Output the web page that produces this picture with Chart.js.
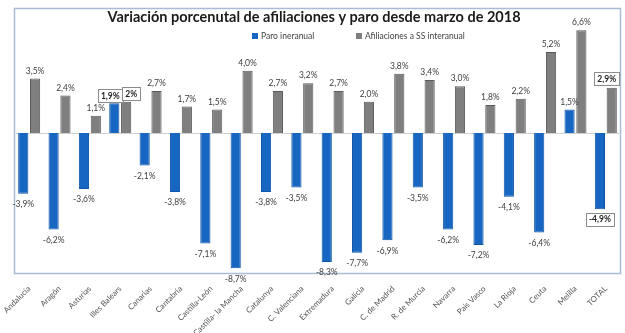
<!DOCTYPE html>
<html>
<head>
<meta charset="utf-8">
<script src="https://cdn.jsdelivr.net/npm/chart.js@4.4.1/dist/chart.umd.min.js"></script>
<style>
  html, body { margin: 0; padding: 0; background: #fff; }
  #wrap { width: 625px; height: 333px; }
</style>
</head>
<body>
<div id="wrap"><canvas id="myChart" width="625" height="333"></canvas></div>
<script>
// datos
const comunidades = ['Andalucía', 'Aragón', 'Asturias', 'Illes Balears', 'Canarias', 'Cantabria',
  'Castilla-León', 'Castilla- la Mancha', 'Catalunya', 'C. Valenciana', 'Extremadura', 'Galicia',
  'C. de Madrid', 'R. de Murcia', 'Navarra', 'País Vasco', 'La Rioja', 'Ceuta', 'Melilla', 'TOTAL'];
const paro = [-3.9, -6.2, -3.6, 1.9, -2.1, -3.8, -7.1, -8.7, -3.8, -3.5, -8.3, -7.7, -6.9, -3.5, -6.2, -7.2, -4.1, -6.4, 1.5, -4.9];
const afiliaciones = [3.5, 2.4, 1.1, 2.0, 2.7, 1.7, 1.5, 4.0, 2.7, 3.2, 2.7, 2.0, 3.8, 3.4, 3.0, 1.8, 2.2, 5.2, 6.6, 2.9];
const etiquetasAfil = ['3,5%', '2,4%', '1,1%', '2%', '2,7%', '1,7%', '1,5%', '4,0%', '2,7%', '3,2%', '2,7%', '2,0%', '3,8%', '3,4%', '3,0%', '1,8%', '2,2%', '5,2%', '6,6%', '2,9%'];
// etiquetas con recuadro: [dataset, indice]
const destacados = [[0, 3], [1, 3], [0, 19], [1, 19]];

const azul = '#1766c2';
const gris = '#7f7f7f';

function fmt(v) {
  return v.toFixed(1).replace('.', ',') + '%';
}

const decoracion = {
  id: 'decoracion',
  beforeDraw(chart) {
    const c = chart.ctx;
    const a = chart.chartArea;
    c.save();
    c.strokeStyle = '#a9bcd4';
    c.lineWidth = 1.5;
    c.strokeRect(a.left + 0.5, 8.5, a.right - a.left - 1, a.bottom - 8);
    // linea del cero
    const y0 = chart.scales.y.getPixelForValue(0);
    c.strokeStyle = '#d0d0d0';
    c.lineWidth = 1;
    c.beginPath();
    c.moveTo(a.left + 2, Math.round(y0) + 0.5);
    c.lineTo(a.right - 2, Math.round(y0) + 0.5);
    c.stroke();
    c.restore();
  },
  afterDraw(chart) {
    const c = chart.ctx;
    c.save();
    // titulo
    c.fillStyle = '#1a1a1a';
    c.font = 'bold 14.5px Lato';
    c.textAlign = 'center';
    c.textBaseline = 'middle';
    c.fillText('Variación porcenutal de afiliaciones y paro desde marzo de 2018', 314, 17);
    // leyenda
    c.font = '8.5px Lato';
    c.textAlign = 'left';
    c.fillStyle = azul;
    c.fillRect(252, 33, 6, 6);
    c.fillStyle = gris;
    c.fillRect(356, 33, 6, 6);
    c.fillStyle = '#404040';
    c.fillText('Paro ineranual', 261, 36.5);
    c.fillText('Afiliaciones a SS interanual', 365, 36.5);

    // etiquetas de datos
    chart.data.datasets.forEach(function (ds, d) {
      const meta = chart.getDatasetMeta(d);
      meta.data.forEach(function (bar, i) {
        const v = ds.data[i];
        const txt = d === 1 ? etiquetasAfil[i] : fmt(v);
        const caja = destacados.some(function (p) { return p[0] === d && p[1] === i; });
        let x = bar.x;
        let y = v >= 0 ? bar.y - 8 : bar.y + 10;
        if (i === 3) x += d === 0 ? -4 : 5;
        if (i === 19 && d === 1) { x -= 5; y -= 1; }
        c.font = (caja ? 'bold ' : '') + '8.5px Lato';
        c.textAlign = 'center';
        c.textBaseline = 'middle';
        if (caja) {
          const w = c.measureText(txt).width + 6;
          c.fillStyle = '#fff';
          c.fillRect(x - w / 2, y - 6.5, w, 13);
          c.strokeStyle = '#8c8c8c';
          c.lineWidth = 1;
          c.strokeRect(Math.round(x - w / 2) + 0.5, Math.round(y - 6.5) + 0.5, Math.round(w), 13);
          c.fillStyle = '#262626';
        } else {
          c.fillStyle = '#404040';
        }
        c.fillText(txt, x, y + 0.5);
      });
    });
    c.restore();
  }
};

const ctx = document.getElementById('myChart');

new Chart(ctx, {
  type: 'bar',
  data: {
    labels: comunidades,
    datasets: [{
      label: 'Paro ineranual',
      data: paro,
      backgroundColor: azul,
      borderColor: '#0f55a6',
      borderWidth: 1,
      categoryPercentage: 0.78,
      barPercentage: 0.86
    },
    {
      label: 'Afiliaciones a SS interanual',
      data: afiliaciones,
      backgroundColor: gris,
      borderColor: '#5a5a5a',
      borderWidth: 1,
      categoryPercentage: 0.78,
      barPercentage: 0.86
    }]
  },
  options: {
    responsive: false,
    animation: false,
    layout: {
      padding: { left: 14, right: 4, top: 24, bottom: 0 }
    },
    plugins: {
      legend: { display: false },
      title: { display: false },
      tooltip: { enabled: false }
    },
    scales: {
      x: {
        grid: { display: false },
        border: { display: false },
        ticks: {
          minRotation: 45,
          maxRotation: 45,
          autoSkip: false,
          padding: 3,
          color: '#555555',
          font: { family: 'Lato', size: 8 }
        },
        afterFit(scale) {
          scale.height = 60;
        }
      },
      y: {
        display: false,
        min: -9,
        max: 7
      }
    }
  },
  plugins: [decoracion]
});
</script>
</body>
</html>
